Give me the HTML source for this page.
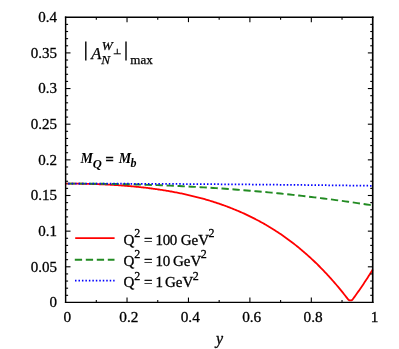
<!DOCTYPE html>
<html><head><meta charset="utf-8"><title>plot</title>
<style>
html,body{margin:0;padding:0;background:#fff;}
body{width:399px;height:349px;overflow:hidden;}
svg{display:block;will-change:transform;}
text{font-family:"Liberation Serif",serif;fill:#000;}
</style></head><body>
<svg width="399" height="349" viewBox="0 0 399 349">
<rect width="399" height="349" fill="#fff"/>
<g font-size="15" stroke="#000" stroke-width="0.3">
<text x="57.1" y="307.35" text-anchor="end">0</text><text x="57.1" y="271.70" text-anchor="end">0.05</text><text x="57.1" y="236.05" text-anchor="end">0.1</text><text x="57.1" y="200.40" text-anchor="end">0.15</text><text x="57.1" y="164.75" text-anchor="end">0.2</text><text x="57.1" y="129.10" text-anchor="end">0.25</text><text x="57.1" y="93.45" text-anchor="end">0.3</text><text x="57.1" y="57.80" text-anchor="end">0.35</text><text x="57.1" y="22.15" text-anchor="end">0.4</text>
<text x="67.40" y="322.1" text-anchor="middle" font-size="15.3">0</text><text x="128.83" y="322.1" text-anchor="middle" font-size="15.3">0.2</text><text x="190.26" y="322.1" text-anchor="middle" font-size="15.3">0.4</text><text x="251.69" y="322.1" text-anchor="middle" font-size="15.3">0.6</text><text x="313.12" y="322.1" text-anchor="middle" font-size="15.3">0.8</text><text x="374.55" y="322.1" text-anchor="middle" font-size="15.3">1</text>
</g>
<text x="215.9" y="344.2" font-size="16" font-style="italic" stroke="#000" stroke-width="0.3">y</text>

<!-- curves -->
<path d="M65.60,183.62 L66.62,183.62 L67.65,183.62 L68.67,183.62 L69.70,183.63 L70.72,183.63 L71.74,183.64 L72.77,183.64 L73.79,183.65 L74.81,183.66 L75.84,183.67 L76.86,183.68 L77.89,183.69 L78.91,183.71 L79.93,183.72 L80.96,183.74 L81.98,183.76 L83.01,183.77 L84.03,183.79 L85.05,183.81 L86.08,183.84 L87.10,183.86 L88.12,183.89 L89.15,183.91 L90.17,183.94 L91.20,183.97 L92.22,184.00 L93.24,184.03 L94.27,184.06 L95.29,184.09 L96.31,184.13 L97.34,184.17 L98.36,184.20 L99.39,184.24 L100.41,184.28 L101.43,184.33 L102.46,184.37 L103.48,184.42 L104.51,184.46 L105.53,184.51 L106.55,184.56 L107.58,184.61 L108.60,184.67 L109.62,184.72 L110.65,184.78 L111.67,184.83 L112.70,184.89 L113.72,184.95 L114.74,185.02 L115.77,185.08 L116.79,185.15 L117.82,185.21 L118.84,185.28 L119.86,185.35 L120.89,185.43 L121.91,185.50 L122.93,185.58 L123.96,185.65 L124.98,185.73 L126.01,185.82 L127.03,185.90 L128.05,185.98 L129.08,186.07 L130.10,186.16 L131.13,186.25 L132.15,186.34 L133.17,186.44 L134.20,186.54 L135.22,186.63 L136.24,186.73 L137.27,186.84 L138.29,186.94 L139.32,187.05 L140.34,187.16 L141.36,187.27 L142.39,187.38 L143.41,187.50 L144.44,187.62 L145.46,187.73 L146.48,187.86 L147.51,187.98 L148.53,188.11 L149.55,188.24 L150.58,188.37 L151.60,188.50 L152.63,188.64 L153.65,188.77 L154.67,188.91 L155.70,189.06 L156.72,189.20 L157.75,189.35 L158.77,189.50 L159.79,189.65 L160.82,189.81 L161.84,189.96 L162.86,190.13 L163.89,190.29 L164.91,190.45 L165.94,190.62 L166.96,190.79 L167.98,190.97 L169.01,191.14 L170.03,191.32 L171.05,191.50 L172.08,191.69 L173.10,191.87 L174.13,192.06 L175.15,192.26 L176.17,192.45 L177.20,192.65 L178.22,192.85 L179.25,193.06 L180.27,193.27 L181.29,193.48 L182.32,193.69 L183.34,193.91 L184.36,194.13 L185.39,194.35 L186.41,194.58 L187.44,194.81 L188.46,195.04 L189.48,195.28 L190.51,195.52 L191.53,195.76 L192.56,196.01 L193.58,196.26 L194.60,196.51 L195.63,196.77 L196.65,197.03 L197.67,197.29 L198.70,197.56 L199.72,197.83 L200.75,198.11 L201.77,198.39 L202.79,198.67 L203.82,198.95 L204.84,199.24 L205.87,199.54 L206.89,199.83 L207.91,200.14 L208.94,200.44 L209.96,200.75 L210.98,201.06 L212.01,201.38 L213.03,201.70 L214.06,202.03 L215.08,202.36 L216.10,202.69 L217.13,203.03 L218.15,203.37 L219.17,203.72 L220.20,204.07 L221.22,204.42 L222.25,204.78 L223.27,205.15 L224.29,205.52 L225.32,205.89 L226.34,206.27 L227.37,206.65 L228.39,207.04 L229.41,207.43 L230.44,207.83 L231.46,208.23 L232.48,208.63 L233.51,209.04 L234.53,209.46 L235.56,209.88 L236.58,210.31 L237.60,210.74 L238.63,211.18 L239.65,211.62 L240.68,212.07 L241.70,212.52 L242.72,212.97 L243.75,213.44 L244.77,213.91 L245.79,214.38 L246.82,214.86 L247.84,215.34 L248.87,215.83 L249.89,216.33 L250.91,216.83 L251.94,217.34 L252.96,217.85 L253.99,218.37 L255.01,218.90 L256.03,219.43 L257.06,219.97 L258.08,220.51 L259.10,221.06 L260.13,221.61 L261.15,222.18 L262.18,222.74 L263.20,223.32 L264.22,223.90 L265.25,224.49 L266.27,225.08 L267.30,225.68 L268.32,226.29 L269.34,226.90 L270.37,227.52 L271.39,228.15 L272.41,228.79 L273.44,229.43 L274.46,230.07 L275.49,230.73 L276.51,231.39 L277.53,232.06 L278.56,232.74 L279.58,233.42 L280.60,234.11 L281.63,234.81 L282.65,235.52 L283.68,236.23 L284.70,236.96 L285.72,237.68 L286.75,238.42 L287.77,239.17 L288.80,239.92 L289.82,240.68 L290.84,241.45 L291.87,242.23 L292.89,243.01 L293.91,243.80 L294.94,244.61 L295.96,245.41 L296.99,246.23 L298.01,247.06 L299.03,247.90 L300.06,248.74 L301.08,249.59 L302.11,250.45 L303.13,251.32 L304.15,252.20 L305.18,253.09 L306.20,253.99 L307.22,254.89 L308.25,255.81 L309.27,256.73 L310.30,257.67 L311.32,258.61 L312.34,259.56 L313.37,260.53 L314.39,261.50 L315.42,262.48 L316.44,263.47 L317.46,264.47 L318.49,265.49 L319.51,266.51 L320.53,267.54 L321.56,268.58 L322.58,269.63 L323.61,270.69 L324.63,271.77 L325.65,272.85 L326.68,273.94 L327.70,275.05 L328.73,276.16 L329.75,277.29 L330.77,278.43 L331.80,279.57 L332.82,280.73 L333.84,281.90 L334.87,283.08 L335.89,284.28 L336.92,285.48 L337.94,286.69 L338.96,287.92 L339.99,289.16 L341.01,290.41 L342.03,291.67 L343.06,292.94 L344.08,294.23 L345.11,295.52 L346.13,296.83 L347.15,298.15 L348.18,299.49 L349.20,300.31 L350.23,300.31 L350.42,300.31 L351.25,300.31 L352.27,299.95 L353.30,298.56 L354.32,297.15 L355.34,295.73 L356.37,294.30 L357.39,292.85 L358.42,291.39 L359.44,289.92 L360.46,288.43 L361.49,286.93 L362.51,285.42 L363.54,283.89 L364.56,282.36 L365.58,280.80 L366.61,279.24 L367.63,277.66 L368.65,276.06 L369.68,274.46 L370.70,272.84 L371.73,271.20 L372.75,269.55" fill="none" stroke="#ff0000" stroke-width="1.8" stroke-linejoin="round"/>
<path d="M65.60,183.62 L68.67,183.62 L71.74,183.62 L74.81,183.63 L77.89,183.63 L80.96,183.65 L84.03,183.66 L87.10,183.68 L90.17,183.70 L93.24,183.73 L96.31,183.75 L99.39,183.79 L102.46,183.82 L105.53,183.86 L108.60,183.90 L111.67,183.95 L114.74,184.00 L117.82,184.06 L120.89,184.12 L123.96,184.18 L127.03,184.25 L130.10,184.32 L133.17,184.40 L136.24,184.48 L139.32,184.56 L142.39,184.65 L145.46,184.74 L148.53,184.84 L151.60,184.94 L154.67,185.05 L157.75,185.16 L160.82,185.27 L163.89,185.39 L166.96,185.52 L170.03,185.65 L173.10,185.78 L176.17,185.92 L179.25,186.06 L182.32,186.21 L185.39,186.36 L188.46,186.52 L191.53,186.68 L194.60,186.85 L197.67,187.02 L200.75,187.20 L203.82,187.38 L206.89,187.56 L209.96,187.76 L213.03,187.95 L216.10,188.15 L219.17,188.36 L222.25,188.57 L225.32,188.79 L228.39,189.01 L231.46,189.23 L234.53,189.47 L237.60,189.70 L240.68,189.94 L243.75,190.19 L246.82,190.44 L249.89,190.70 L252.96,190.96 L256.03,191.23 L259.10,191.50 L262.18,191.78 L265.25,192.06 L268.32,192.35 L271.39,192.65 L274.46,192.95 L277.53,193.25 L280.60,193.56 L283.68,193.88 L286.75,194.20 L289.82,194.52 L292.89,194.85 L295.96,195.19 L299.03,195.53 L302.11,195.88 L305.18,196.23 L308.25,196.59 L311.32,196.96 L314.39,197.33 L317.46,197.70 L320.53,198.08 L323.61,198.47 L326.68,198.86 L329.75,199.26 L332.82,199.66 L335.89,200.07 L338.96,200.48 L342.03,200.90 L345.11,201.33 L348.18,201.76 L351.25,202.19 L354.32,202.64 L357.39,203.09 L360.46,203.54 L363.54,204.00 L366.61,204.46 L369.68,204.93 L372.75,205.41" fill="none" stroke="#228b22" stroke-width="1.9" stroke-dasharray="7.3 3.7" stroke-dashoffset="9"/>
<path d="M65.60,183.62 L68.67,183.62 L71.74,183.62 L74.81,183.62 L77.89,183.62 L80.96,183.63 L84.03,183.63 L87.10,183.63 L90.17,183.64 L93.24,183.65 L96.31,183.65 L99.39,183.66 L102.46,183.66 L105.53,183.67 L108.60,183.68 L111.67,183.69 L114.74,183.70 L117.82,183.71 L120.89,183.72 L123.96,183.73 L127.03,183.74 L130.10,183.75 L133.17,183.76 L136.24,183.77 L139.32,183.78 L142.39,183.80 L145.46,183.81 L148.53,183.82 L151.60,183.84 L154.67,183.85 L157.75,183.87 L160.82,183.88 L163.89,183.90 L166.96,183.91 L170.03,183.93 L173.10,183.95 L176.17,183.96 L179.25,183.98 L182.32,184.00 L185.39,184.02 L188.46,184.04 L191.53,184.06 L194.60,184.08 L197.67,184.10 L200.75,184.12 L203.82,184.14 L206.89,184.16 L209.96,184.18 L213.03,184.20 L216.10,184.22 L219.17,184.24 L222.25,184.27 L225.32,184.29 L228.39,184.31 L231.46,184.34 L234.53,184.36 L237.60,184.39 L240.68,184.41 L243.75,184.44 L246.82,184.46 L249.89,184.49 L252.96,184.51 L256.03,184.54 L259.10,184.57 L262.18,184.60 L265.25,184.62 L268.32,184.65 L271.39,184.68 L274.46,184.71 L277.53,184.74 L280.60,184.77 L283.68,184.80 L286.75,184.83 L289.82,184.86 L292.89,184.89 L295.96,184.92 L299.03,184.95 L302.11,184.98 L305.18,185.01 L308.25,185.05 L311.32,185.08 L314.39,185.11 L317.46,185.15 L320.53,185.18 L323.61,185.21 L326.68,185.25 L329.75,185.28 L332.82,185.32 L335.89,185.35 L338.96,185.39 L342.03,185.43 L345.11,185.46 L348.18,185.50 L351.25,185.54 L354.32,185.57 L357.39,185.61 L360.46,185.65 L363.54,185.69 L366.61,185.73 L369.68,185.76 L372.75,185.80" fill="none" stroke="#0000ff" stroke-width="1.75" stroke-dasharray="1.5 1.97" stroke-dashoffset="0.9"/>

<!-- legend -->
<line x1="75.2" y1="238.1" x2="114.6" y2="238.1" stroke="#ff0000" stroke-width="1.7"/>
<line x1="74.8" y1="259.8" x2="114.5" y2="259.8" stroke="#228b22" stroke-width="1.9" stroke-dasharray="7.3 3.7"/>
<line x1="75" y1="280.6" x2="114.6" y2="280.6" stroke="#0000ff" stroke-width="1.75" stroke-dasharray="1.5 1.97"/>
<g font-size="15" stroke="#000" stroke-width="0.3">
<text x="123.5" y="244.9">Q<tspan font-size="12" dy="-7.8">2</tspan><tspan dy="7.8"> = </tspan><tspan dx="-0.7" letter-spacing="-0.45">100</tspan><tspan dx="0.25"> GeV</tspan><tspan font-size="12" dy="-7.8" dx="-0.6">2</tspan></text>
<text x="123.5" y="266.15">Q<tspan font-size="12" dy="-7.8">2</tspan><tspan dy="7.8"> = </tspan><tspan dx="-0.7" letter-spacing="-0.45">10</tspan><tspan dx="-0.5"> GeV</tspan><tspan font-size="12" dy="-7.8" dx="-0.6">2</tspan></text>
<text x="123.5" y="287.4">Q<tspan font-size="12" dy="-7.8">2</tspan><tspan dy="7.8"> = </tspan><tspan dx="-0.7" letter-spacing="-0.45">1</tspan><tspan dx="-1.45"> GeV</tspan><tspan font-size="12" dy="-7.8" dx="-0.6">2</tspan></text>
</g>

<!-- annotations -->
<g stroke="#000" stroke-width="0.25">
<line x1="85.8" y1="41.4" x2="85.8" y2="60.4" stroke="#000" stroke-width="1.4"/>
<line x1="126.0" y1="41.4" x2="126.0" y2="60.4" stroke="#000" stroke-width="1.4"/>
<text x="91.3" y="58.7" font-size="16.5" font-style="italic">A</text>
<text x="101.8" y="49.8" font-size="13.2" font-style="italic">W</text>
<text x="101.3" y="63.7" font-size="13.2" font-style="italic">N</text>
<path d="M113.7,53.8 H120.8 M117.25,53.8 V48.7" stroke="#000" stroke-width="1" fill="none"/>
<text x="130.3" y="64.2" font-size="13">max</text>
</g>
<g font-style="italic" font-weight="bold">
<text x="80.6" y="163.3" font-size="14">M</text>
<text x="92.8" y="167.6" font-size="12.5">Q</text>
<text x="118.7" y="163.3" font-size="14">M</text>
<text x="130.5" y="167.4" font-size="12">b</text>
</g>
<text x="105.4" y="163.9" font-size="14.5" font-weight="bold" stroke="#000" stroke-width="0.5">=</text>

<!-- frame and ticks -->
<g stroke="#000" stroke-width="1.1" fill="none">
<line x1="65.60" y1="295.32" x2="68.10" y2="295.32"/><line x1="372.75" y1="295.32" x2="370.25" y2="295.32"/><line x1="65.60" y1="288.19" x2="68.10" y2="288.19"/><line x1="372.75" y1="288.19" x2="370.25" y2="288.19"/><line x1="65.60" y1="281.06" x2="68.10" y2="281.06"/><line x1="372.75" y1="281.06" x2="370.25" y2="281.06"/><line x1="65.60" y1="273.93" x2="68.10" y2="273.93"/><line x1="372.75" y1="273.93" x2="370.25" y2="273.93"/><line x1="65.60" y1="266.80" x2="70.50" y2="266.80"/><line x1="372.75" y1="266.80" x2="367.85" y2="266.80"/><line x1="65.60" y1="259.67" x2="68.10" y2="259.67"/><line x1="372.75" y1="259.67" x2="370.25" y2="259.67"/><line x1="65.60" y1="252.54" x2="68.10" y2="252.54"/><line x1="372.75" y1="252.54" x2="370.25" y2="252.54"/><line x1="65.60" y1="245.41" x2="68.10" y2="245.41"/><line x1="372.75" y1="245.41" x2="370.25" y2="245.41"/><line x1="65.60" y1="238.28" x2="68.10" y2="238.28"/><line x1="372.75" y1="238.28" x2="370.25" y2="238.28"/><line x1="65.60" y1="231.15" x2="70.50" y2="231.15"/><line x1="372.75" y1="231.15" x2="367.85" y2="231.15"/><line x1="65.60" y1="224.02" x2="68.10" y2="224.02"/><line x1="372.75" y1="224.02" x2="370.25" y2="224.02"/><line x1="65.60" y1="216.89" x2="68.10" y2="216.89"/><line x1="372.75" y1="216.89" x2="370.25" y2="216.89"/><line x1="65.60" y1="209.76" x2="68.10" y2="209.76"/><line x1="372.75" y1="209.76" x2="370.25" y2="209.76"/><line x1="65.60" y1="202.63" x2="68.10" y2="202.63"/><line x1="372.75" y1="202.63" x2="370.25" y2="202.63"/><line x1="65.60" y1="195.50" x2="70.50" y2="195.50"/><line x1="372.75" y1="195.50" x2="367.85" y2="195.50"/><line x1="65.60" y1="188.37" x2="68.10" y2="188.37"/><line x1="372.75" y1="188.37" x2="370.25" y2="188.37"/><line x1="65.60" y1="181.24" x2="68.10" y2="181.24"/><line x1="372.75" y1="181.24" x2="370.25" y2="181.24"/><line x1="65.60" y1="174.11" x2="68.10" y2="174.11"/><line x1="372.75" y1="174.11" x2="370.25" y2="174.11"/><line x1="65.60" y1="166.98" x2="68.10" y2="166.98"/><line x1="372.75" y1="166.98" x2="370.25" y2="166.98"/><line x1="65.60" y1="159.85" x2="70.50" y2="159.85"/><line x1="372.75" y1="159.85" x2="367.85" y2="159.85"/><line x1="65.60" y1="152.72" x2="68.10" y2="152.72"/><line x1="372.75" y1="152.72" x2="370.25" y2="152.72"/><line x1="65.60" y1="145.59" x2="68.10" y2="145.59"/><line x1="372.75" y1="145.59" x2="370.25" y2="145.59"/><line x1="65.60" y1="138.46" x2="68.10" y2="138.46"/><line x1="372.75" y1="138.46" x2="370.25" y2="138.46"/><line x1="65.60" y1="131.33" x2="68.10" y2="131.33"/><line x1="372.75" y1="131.33" x2="370.25" y2="131.33"/><line x1="65.60" y1="124.20" x2="70.50" y2="124.20"/><line x1="372.75" y1="124.20" x2="367.85" y2="124.20"/><line x1="65.60" y1="117.07" x2="68.10" y2="117.07"/><line x1="372.75" y1="117.07" x2="370.25" y2="117.07"/><line x1="65.60" y1="109.94" x2="68.10" y2="109.94"/><line x1="372.75" y1="109.94" x2="370.25" y2="109.94"/><line x1="65.60" y1="102.81" x2="68.10" y2="102.81"/><line x1="372.75" y1="102.81" x2="370.25" y2="102.81"/><line x1="65.60" y1="95.68" x2="68.10" y2="95.68"/><line x1="372.75" y1="95.68" x2="370.25" y2="95.68"/><line x1="65.60" y1="88.55" x2="70.50" y2="88.55"/><line x1="372.75" y1="88.55" x2="367.85" y2="88.55"/><line x1="65.60" y1="81.42" x2="68.10" y2="81.42"/><line x1="372.75" y1="81.42" x2="370.25" y2="81.42"/><line x1="65.60" y1="74.29" x2="68.10" y2="74.29"/><line x1="372.75" y1="74.29" x2="370.25" y2="74.29"/><line x1="65.60" y1="67.16" x2="68.10" y2="67.16"/><line x1="372.75" y1="67.16" x2="370.25" y2="67.16"/><line x1="65.60" y1="60.03" x2="68.10" y2="60.03"/><line x1="372.75" y1="60.03" x2="370.25" y2="60.03"/><line x1="65.60" y1="52.90" x2="70.50" y2="52.90"/><line x1="372.75" y1="52.90" x2="367.85" y2="52.90"/><line x1="65.60" y1="45.77" x2="68.10" y2="45.77"/><line x1="372.75" y1="45.77" x2="370.25" y2="45.77"/><line x1="65.60" y1="38.64" x2="68.10" y2="38.64"/><line x1="372.75" y1="38.64" x2="370.25" y2="38.64"/><line x1="65.60" y1="31.51" x2="68.10" y2="31.51"/><line x1="372.75" y1="31.51" x2="370.25" y2="31.51"/><line x1="65.60" y1="24.38" x2="68.10" y2="24.38"/><line x1="372.75" y1="24.38" x2="370.25" y2="24.38"/><line x1="96.31" y1="302.45" x2="96.31" y2="299.95"/><line x1="96.31" y1="17.25" x2="96.31" y2="19.75"/><line x1="127.03" y1="302.45" x2="127.03" y2="297.55"/><line x1="127.03" y1="17.25" x2="127.03" y2="22.15"/><line x1="157.75" y1="302.45" x2="157.75" y2="299.95"/><line x1="157.75" y1="17.25" x2="157.75" y2="19.75"/><line x1="188.46" y1="302.45" x2="188.46" y2="297.55"/><line x1="188.46" y1="17.25" x2="188.46" y2="22.15"/><line x1="219.17" y1="302.45" x2="219.17" y2="299.95"/><line x1="219.17" y1="17.25" x2="219.17" y2="19.75"/><line x1="249.89" y1="302.45" x2="249.89" y2="297.55"/><line x1="249.89" y1="17.25" x2="249.89" y2="22.15"/><line x1="280.60" y1="302.45" x2="280.60" y2="299.95"/><line x1="280.60" y1="17.25" x2="280.60" y2="19.75"/><line x1="311.32" y1="302.45" x2="311.32" y2="297.55"/><line x1="311.32" y1="17.25" x2="311.32" y2="22.15"/><line x1="342.03" y1="302.45" x2="342.03" y2="299.95"/><line x1="342.03" y1="17.25" x2="342.03" y2="19.75"/>
</g>
<g stroke="#000" fill="none" stroke-linecap="butt">
<line x1="64.9" y1="17.28" x2="373.55" y2="17.28" stroke-width="1.45"/>
<line x1="64.9" y1="302.48" x2="373.55" y2="302.48" stroke-width="1.25"/>
<line x1="65.62" y1="16.55" x2="65.62" y2="303.1" stroke-width="1.45"/>
<line x1="372.73" y1="16.55" x2="372.73" y2="303.1" stroke-width="1.65"/>
</g>
</svg>
</body></html>
